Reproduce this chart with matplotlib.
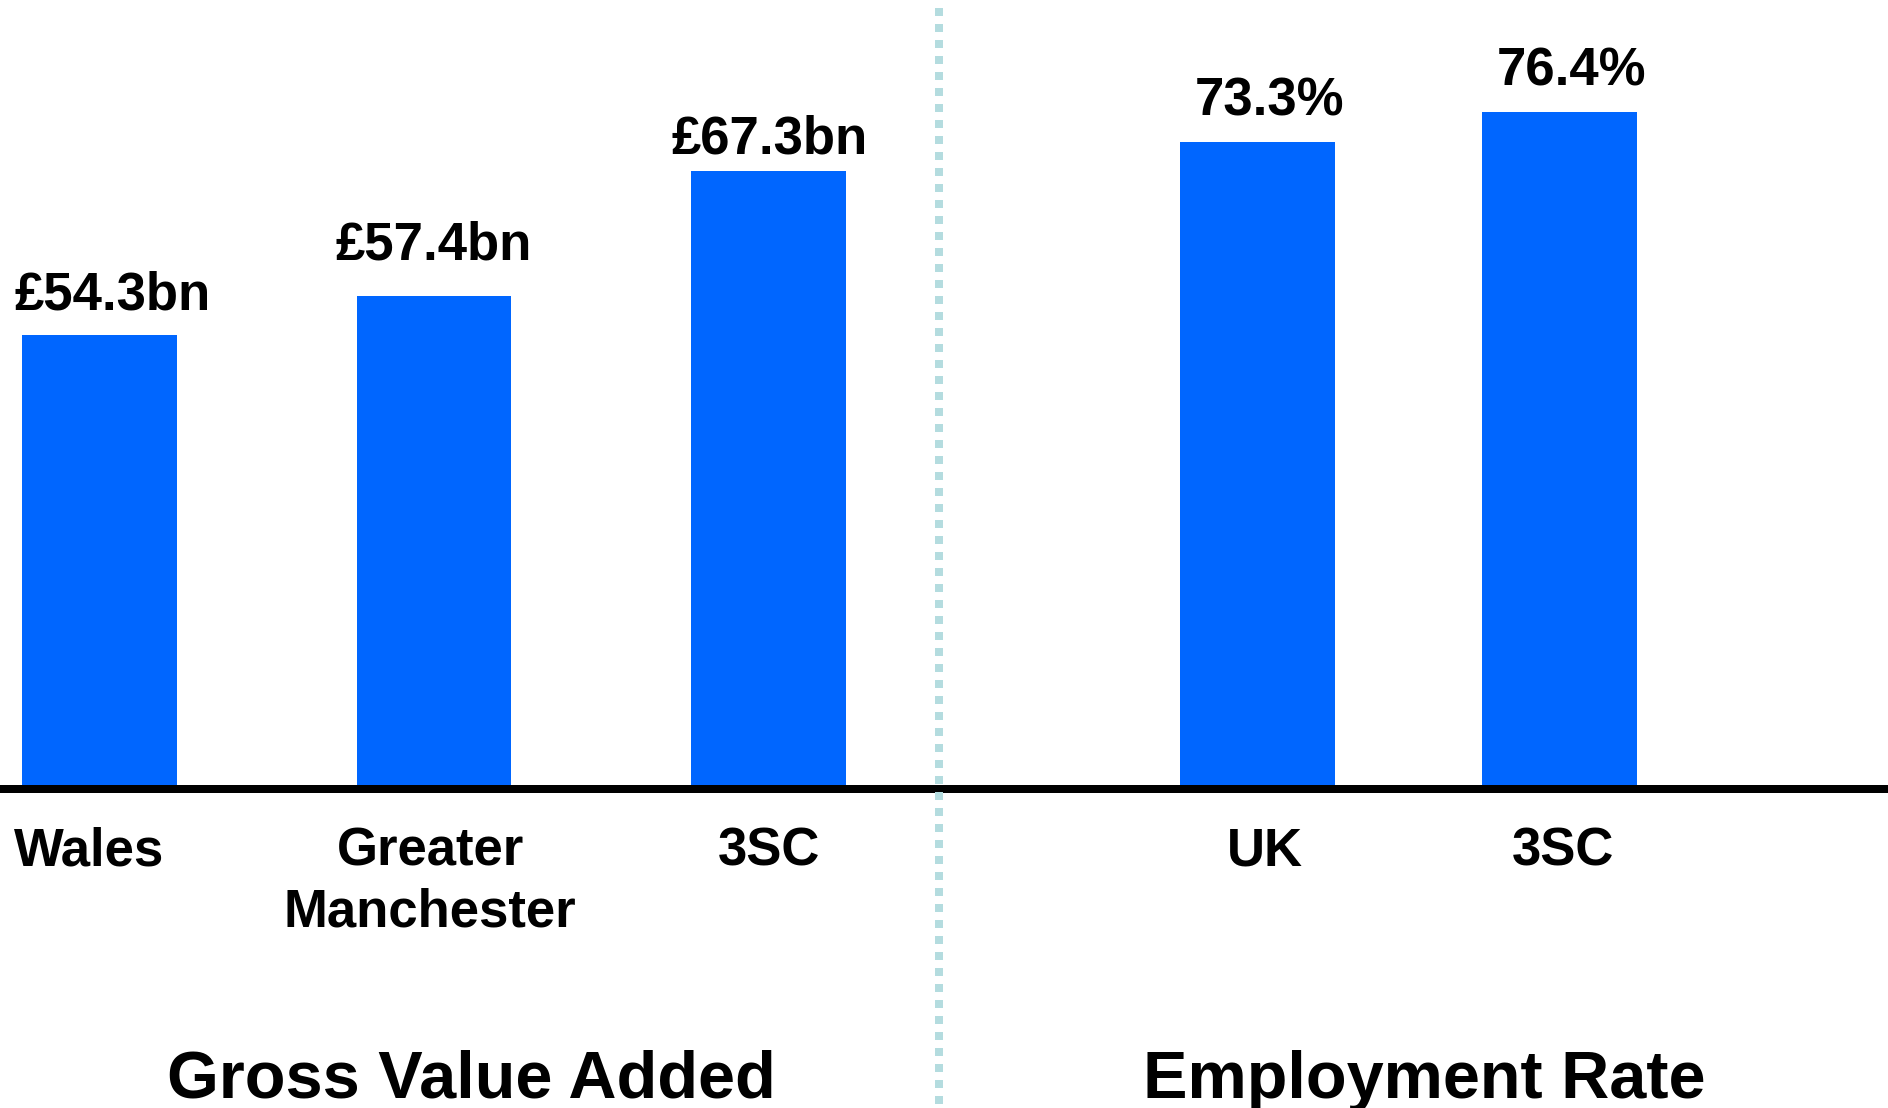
import matplotlib.pyplot as plt
from matplotlib.lines import Line2D

plt.rcParams['font.family'] = ['Liberation Sans', 'DejaVu Sans']

# Gross Value Added (£bn)
gva_labels = ['Wales', 'Greater\nManchester', '3SC']
gva_values = [54.3, 57.4, 67.3]
gva_text = ['£54.3bn', '£57.4bn', '£67.3bn']

# Employment rate (%)
emp_labels = ['UK', '3SC']
emp_values = [73.3, 76.4]
emp_text = ['73.3%', '76.4%']

BLUE = '#0066ff'
DOT = '#b4dcdf'
W, H = 1888, 1108
base_px = 789

fig = plt.figure(figsize=(W / 100, H / 100), dpi=100)
bottom = (H - base_px) / H
ax1 = fig.add_axes([0, bottom, 939 / W, 1 - bottom])
ax2 = fig.add_axes([939 / W, bottom, 1 - 939 / W, 1 - bottom])


def draw_panel(ax, labels, values, texts, ylim, xlim, width, val_dx, val_dy, cat_dx):
    x = list(range(len(values)))
    ymin = ylim[0]
    ax.bar(x, [v - ymin for v in values], bottom=ymin, width=width, color=BLUE)
    ax.set_ylim(ylim)
    ax.set_xlim(xlim)
    for i, (v, t) in enumerate(zip(values, texts)):
        ax.annotate(t, (i, v), xytext=(val_dx[i] * 0.72, val_dy[i] * 0.72),
                    textcoords='offset points', ha='center', va='baseline',
                    fontsize=38, fontweight='bold')
    for i, lab in enumerate(labels):
        ax.annotate(lab, (i, ymin), xytext=(cat_dx[i] * 0.72, -27), textcoords='offset points',
                    ha='center', va='top', fontsize=38, fontweight='bold',
                    linespacing=1.27, annotation_clip=False)
    ax.axhline(ymin, color='black', linewidth=5.76, clip_on=False, zorder=5)
    ax.axis('off')


draw_panel(ax1, gva_labels, gva_values, gva_text, (18.4, 80.85), (-0.2975, 2.5097),
           0.463, [13, 0, 1], [26, 37, 18], [-10, -4, 1])
draw_panel(ax2, emp_labels, emp_values, emp_text, (6.44, 87.97), (-1.0546, 2.0877),
           0.513, [12, 12], [26, 26], [7, 4])

# divider
fig.add_artist(Line2D([939 / W, 939 / W], [1, 0], transform=fig.transFigure,
                      color=DOT, linewidth=5.76, linestyle=(1, (1, 1)), zorder=1))

fig.text(471 / W, (H - 1098) / H, 'Gross Value Added', ha='center', va='baseline',
         fontsize=48, fontweight='bold')
fig.text(1424 / W, (H - 1098) / H, 'Employment Rate', ha='center', va='baseline',
         fontsize=48, fontweight='bold')

fig.savefig('out.png', dpi=100)
